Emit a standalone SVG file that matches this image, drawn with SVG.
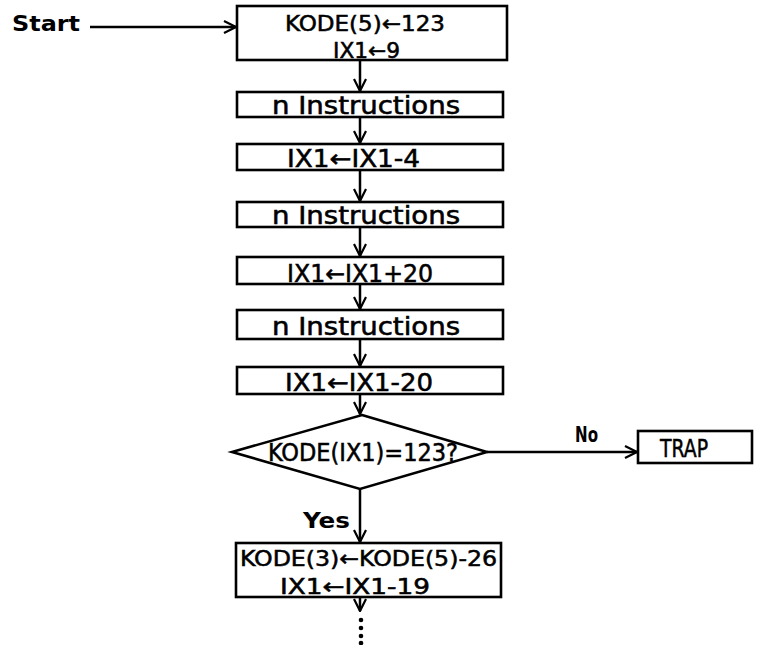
<svg xmlns="http://www.w3.org/2000/svg" width="763" height="645" viewBox="0 0 763 645">
<defs>
<style>
.box{fill:none;stroke:#000;stroke-width:2.6}
.t{font-family:"DejaVu Sans Condensed","DejaVu Sans",sans-serif;font-size:24px;fill:#000;stroke:#000;stroke-width:0.5}
.s{font-size:22px}
.b{font-family:"DejaVu Sans","Liberation Sans",sans-serif;font-weight:bold;font-size:22px;fill:#000}
.c{fill:none;stroke:#000;stroke-width:2.5}
.dot{fill:#000}
</style>
<marker id="ah" viewBox="0 0 14 14" refX="13" refY="7" markerWidth="14" markerHeight="14" markerUnits="userSpaceOnUse" orient="auto">
<path d="M1,1 L13,7 L1,13" fill="none" stroke="#000" stroke-width="2.2"/>
</marker>
</defs>
<rect width="763" height="645" fill="#fff"/>
<g id="connectors">
<line class="c" x1="90" y1="27" x2="236" y2="27" marker-end="url(#ah)"/>
<line class="c" x1="360" y1="60" x2="360" y2="91" marker-end="url(#ah)"/>
<line class="c" x1="360" y1="117" x2="360" y2="143" marker-end="url(#ah)"/>
<line class="c" x1="360" y1="170" x2="360" y2="201" marker-end="url(#ah)"/>
<line class="c" x1="360" y1="227" x2="360" y2="256" marker-end="url(#ah)"/>
<line class="c" x1="360" y1="284" x2="360" y2="309" marker-end="url(#ah)"/>
<line class="c" x1="360" y1="339" x2="360" y2="366" marker-end="url(#ah)"/>
<line class="c" x1="360" y1="394" x2="360" y2="414" marker-end="url(#ah)"/>
<line class="c" x1="487" y1="452" x2="637" y2="452" marker-end="url(#ah)"/>
<line class="c" x1="360" y1="489" x2="360" y2="542" marker-end="url(#ah)"/>
<line class="c" x1="360" y1="597" x2="360" y2="611" marker-end="url(#ah)"/>
<circle class="dot" cx="361" cy="620" r="2.3"/>
<circle class="dot" cx="361" cy="628" r="2.3"/>
<circle class="dot" cx="361" cy="636" r="2.3"/>
<circle class="dot" cx="361" cy="643" r="2.3"/>
<text class="b" x="575" y="442" textLength="23" lengthAdjust="spacingAndGlyphs">No</text>
<text class="b" x="303" y="528" textLength="47" lengthAdjust="spacingAndGlyphs">Yes</text>
</g>
<g id="start"><text class="b" x="12" y="31" textLength="68" lengthAdjust="spacingAndGlyphs">Start</text></g>
<g id="n1">
<rect class="box" x="237" y="6" width="270" height="54"/>
<text class="t s" x="285" y="31" textLength="160" lengthAdjust="spacingAndGlyphs">KODE(5)←123</text>
<text class="t s" x="333" y="58" textLength="67" lengthAdjust="spacingAndGlyphs">IX1←9</text>
</g>
<g id="n2">
<rect class="box" x="237" y="92" width="266" height="25"/>
<text class="t" x="272" y="114" textLength="188" lengthAdjust="spacingAndGlyphs">n Instructions</text>
</g>
<g id="n3">
<rect class="box" x="237" y="144" width="266" height="26"/>
<text class="t" x="287" y="167" textLength="133" lengthAdjust="spacingAndGlyphs">IX1←IX1-4</text>
</g>
<g id="n4">
<rect class="box" x="237" y="202" width="266" height="25"/>
<text class="t" x="272" y="224" textLength="188" lengthAdjust="spacingAndGlyphs">n Instructions</text>
</g>
<g id="n5">
<rect class="box" x="237" y="257" width="266" height="27"/>
<text class="t" x="287" y="282" textLength="146" lengthAdjust="spacingAndGlyphs">IX1←IX1+20</text>
</g>
<g id="n6">
<rect class="box" x="237" y="310" width="266" height="29"/>
<text class="t" x="272" y="335" textLength="188" lengthAdjust="spacingAndGlyphs">n Instructions</text>
</g>
<g id="n7">
<rect class="box" x="237" y="367" width="266" height="27"/>
<text class="t" x="285" y="391" textLength="148" lengthAdjust="spacingAndGlyphs">IX1←IX1-20</text>
</g>
<g id="decision">
<polygon class="box" points="362,415 487,452 360,489 232,452"/>
<text class="t" x="268" y="461" textLength="190" lengthAdjust="spacingAndGlyphs">KODE(IX1)=123?</text>
</g>
<g id="trap">
<rect class="box" x="638" y="431" width="114" height="32"/>
<text class="t" x="660" y="457" textLength="48" lengthAdjust="spacingAndGlyphs">TRAP</text>
</g>
<g id="n8">
<rect class="box" x="236" y="543" width="265" height="54"/>
<text class="t s" x="240" y="566" textLength="257" lengthAdjust="spacingAndGlyphs">KODE(3)←KODE(5)-26</text>
<text class="t s" x="280" y="594" textLength="150" lengthAdjust="spacingAndGlyphs">IX1←IX1-19</text>
</g>
</svg>
